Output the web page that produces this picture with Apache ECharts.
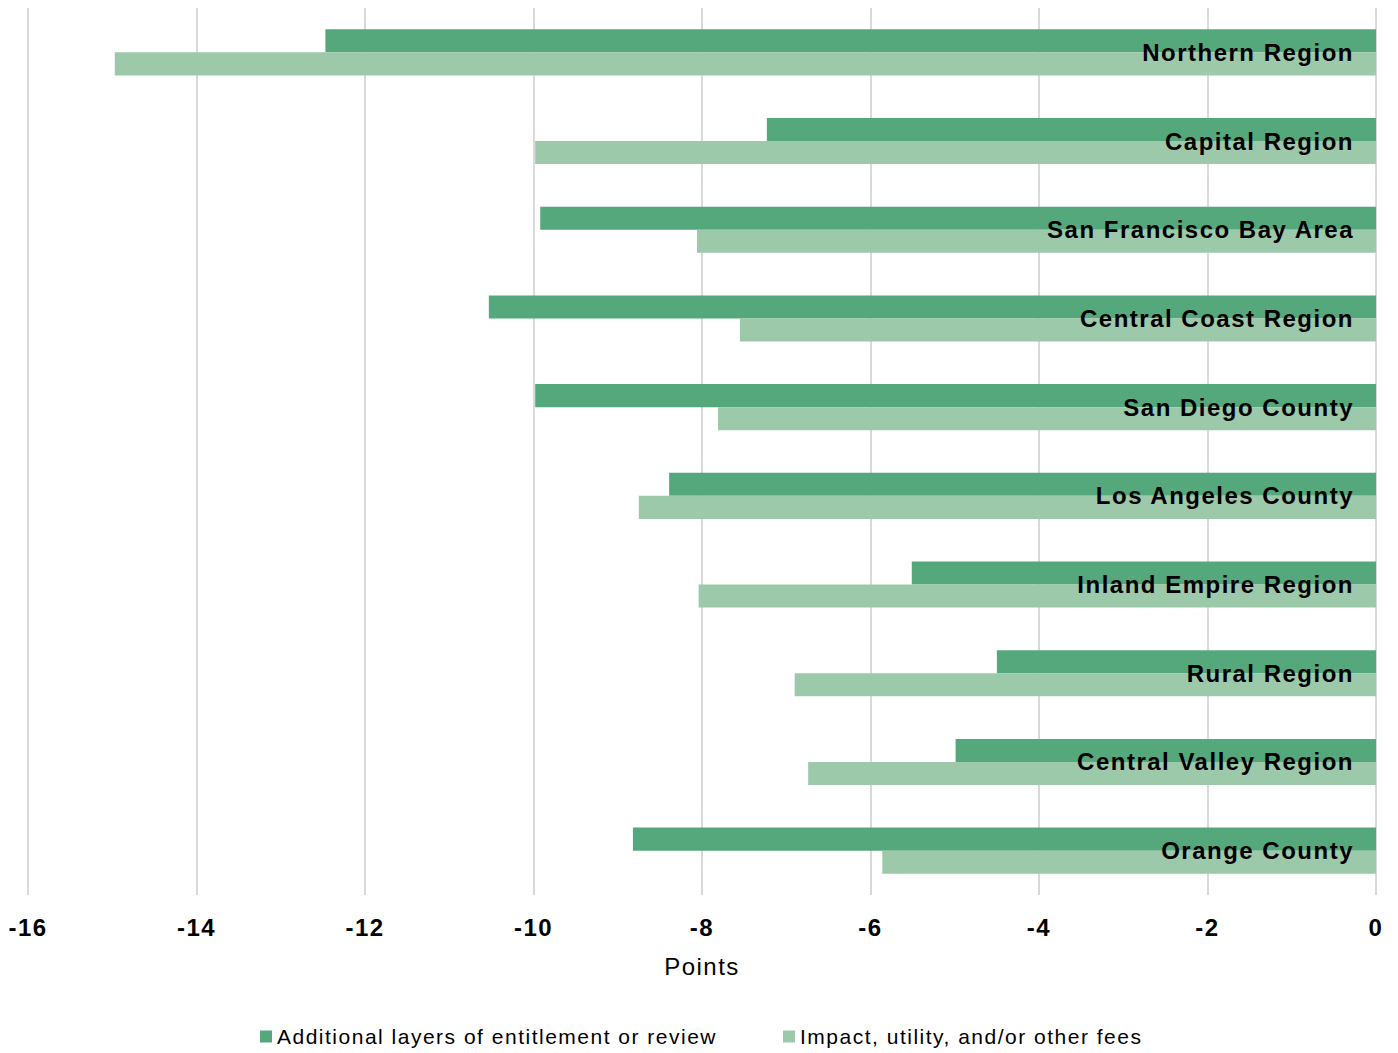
<!DOCTYPE html>
<html><head><meta charset="utf-8">
<script src="https://cdn.jsdelivr.net/npm/echarts@6/dist/echarts.min.js"></script>
<style>html,body{margin:0;padding:0;background:#fff}#c{width:1398px;height:1053px}#c text{letter-spacing:1.5px}</style>
</head><body><div id="c"></div>
<script>
const categories = ["Northern Region","Capital Region","San Francisco Bay Area","Central Coast Region","San Diego County","Los Angeles County","Inland Empire Region","Rural Region","Central Valley Region","Orange County"];
const seriesNames = ["Additional layers of entitlement or review","Impact, utility, and/or other fees"];
const entitlement = [-12.47,-7.23,-9.92,-10.53,-9.98,-8.39,-5.51,-4.50,-4.99,-8.82];
const fees = [-14.97,-9.98,-8.06,-7.55,-7.81,-8.75,-8.04,-6.90,-6.74,-5.86];
const xTicks = {min:-16,max:0,interval:2};

const FONT = "'Liberation Sans', Arial, sans-serif";
const chart = echarts.init(document.getElementById('c'), null, {renderer:'svg'});
chart.setOption({
  animation:false,
  textStyle:{fontFamily:FONT},
  grid:{left:28,right:22,top:8,bottom:158,containLabel:false},
  legend:{
    top:1021,left:255,itemWidth:12,itemHeight:12,itemGap:129,
    icon:'rect',
    textStyle:{fontSize:21,color:'#000',fontFamily:FONT},
    data:seriesNames
  },
  xAxis:{
    type:'value',min:xTicks.min,max:xTicks.max,interval:xTicks.interval,
    name:'Points',nameLocation:'middle',nameGap:59,
    nameTextStyle:{fontSize:24,color:'#000',fontFamily:FONT},
    axisLine:{show:false},axisTick:{show:false},
    axisLabel:{fontSize:24,fontWeight:'bold',color:'#000',margin:20,fontFamily:FONT},
    splitLine:{show:true,lineStyle:{color:'#d9d9d9',width:2}}
  },
  yAxis:{
    type:'category',data:categories,inverse:true,position:'right',z:10,
    axisLine:{show:false},axisTick:{show:false},splitLine:{show:false},
    axisLabel:{inside:true,margin:22,fontSize:24,fontWeight:'bold',color:'#000',fontFamily:FONT,padding:[0,0,4,0]}
  },
  series:[
    {name:seriesNames[0],type:'bar',data:entitlement,barGap:'0%',barCategoryGap:'48%',itemStyle:{color:'#55a77c'}},
    {name:seriesNames[1],type:'bar',data:fees,barGap:'0%',barCategoryGap:'48%',itemStyle:{color:'#9dc9ab'}}
  ]
});
</script></body></html>
